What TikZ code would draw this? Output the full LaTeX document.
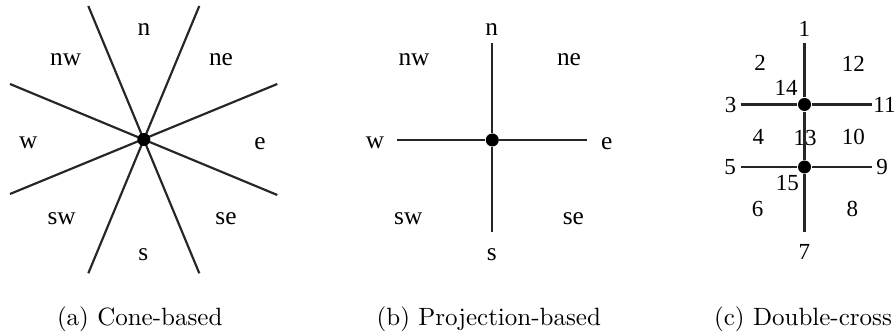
\documentclass[tikz,border=0pt]{standalone}
\usepackage{fontspec}
\newfontfamily\lblfont{Liberation Serif}
\newfontfamily\capfont{lmroman10-regular}[Extension=.otf]
\begin{document}
\begin{tikzpicture}[x=0.3pt,y=-0.3pt,
  ray/.style={line width=0.65pt,draw=black!85},
  dot/.style={circle,fill=black,inner sep=0pt,minimum size=3.9pt},
  lbl/.style={inner sep=0pt,font=\lblfont\fontsize{7.6}{8}\selectfont},
  num/.style={inner sep=0pt,font=\lblfont\fontsize{6.9}{8}\selectfont},
  captext/.style={inner sep=0pt,anchor=base,font=\capfont\fontsize{7.5}{9}\selectfont}]
\useasboundingbox (0,0) rectangle (896,336);
% ---------- (a) Cone-based
\coordinate (a1) at (88.3,6);
\coordinate (a2) at (199.3,6);
\coordinate (a3) at (277.3,84);
\coordinate (a4) at (277.3,195);
\coordinate (a5) at (199.3,273.3);
\coordinate (a6) at (88.3,273.3);
\coordinate (a7) at (10,194);
\coordinate (a8) at (10,84);
\draw[ray] (a1) -- (a5);
\draw[ray] (a2) -- (a6);
\draw[ray] (a3) -- (a7);
\draw[ray] (a8) -- (a4);
\node[dot] (ac) at (143.8,139.5) {};
\node[lbl] (an) at (144,30) {n};
\node[lbl] (anw) at (65.7,60) {nw};
\node[lbl] (ane) at (221,60) {ne};
\node[lbl] (aw) at (28.3,143.3) {w};
\node[lbl] (ae) at (260,143.3) {e};
\node[lbl] (asw) at (61.7,218.5) {sw};
\node[lbl] (ase) at (226,218.5) {se};
\node[lbl] (as) at (143.3,255) {s};
\node[captext] (capa) at (139.7,326) {(a) Cone-based};
% ---------- (b) Projection-based
\node[dot] (bc) at (492.3,140) {};
\coordinate (bt) at (492.3,43.3);
\coordinate (bb) at (492.3,232.3);
\coordinate (bl) at (397.3,140);
\coordinate (br) at (586.7,140);
\draw[ray] (bt) -- (bc) -- (bb);
\draw[ray] (bl) -- (bc) -- (br);
\node[lbl] (bn) at (491.7,29.3) {n};
\node[lbl] (bnw) at (414,60) {nw};
\node[lbl] (bne) at (569,60) {ne};
\node[lbl] (bw) at (375,143.3) {w};
\node[lbl] (be) at (606.7,143.3) {e};
\node[lbl] (bsw) at (408.3,219) {sw};
\node[lbl] (bse) at (573.3,219) {se};
\node[lbl] (bs) at (491.7,255) {s};
\node[captext] (capb) at (488.8,326) {(b) Projection-based};
% ---------- (c) Double-cross
\node[dot] (c1) at (804.5,104.5) {};
\node[dot] (c2) at (804.5,167) {};
\coordinate (ct) at (804.5,43.3);
\coordinate (cb) at (804.5,232);
\coordinate (cl1) at (740.7,104.5);
\coordinate (cr1) at (872,104.5);
\coordinate (cl2) at (740.7,167);
\coordinate (cr2) at (872,167);
\draw[ray] (ct) -- (c1) -- (c2) -- (cb);
\draw[ray] (cl1) -- (c1) -- (cr1);
\draw[ray] (cl2) -- (c2) -- (cr2);
\node[num] (n1) at (804.3,29) {1};
\node[num] (n2) at (760,63.3) {2};
\node[num] (n12) at (853.3,64.3) {12};
\node[num] (n14) at (786,88.3) {14};
\node[num] (n3) at (730.7,105) {3};
\node[num] (n11) at (884.5,105) {11};
\node[num] (n4) at (758.3,137.3) {4};
\node[num] (n13) at (805,138.3) {13};
\node[num] (n10) at (853.3,136.7) {10};
\node[num] (n5) at (730,166.7) {5};
\node[num] (n9) at (882,166.7) {9};
\node[num] (n15) at (787.3,182.7) {15};
\node[num] (n6) at (757.7,209.3) {6};
\node[num] (n8) at (852.3,209.3) {8};
\node[num] (n7) at (804.3,251.7) {7};
\node[captext] (capc) at (803,326) {(c) Double-cross};
\end{tikzpicture}
\end{document}
